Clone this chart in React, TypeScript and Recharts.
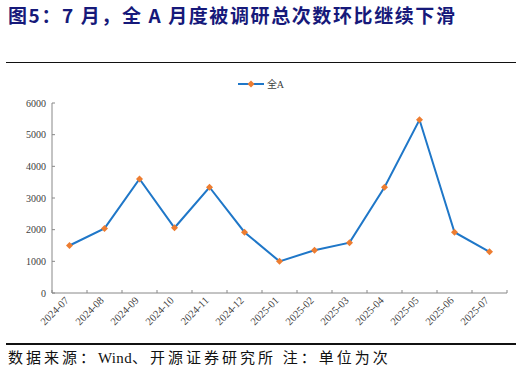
import React from 'react';
import { LineChart, Line, XAxis, YAxis } from 'recharts';

const months = [
  '2024-07', '2024-08', '2024-09', '2024-10', '2024-11', '2024-12', '2025-01',
  '2025-02', '2025-03', '2025-04', '2025-05', '2025-06', '2025-07',
];
const surveyCounts = [1500, 2040, 3600, 2060, 3340, 1920, 1000, 1350, 1590, 3340, 5470, 1920, 1300];
const yTicks = [0, 1000, 2000, 3000, 4000, 5000, 6000];
const seriesName = '全A';

const LINE = '#1F77C8';
const MARK = '#ED7D31';
const SERIF = '"Liberation Serif", "DejaVu Serif", serif';
const CJK = '"Liberation Serif", "Noto Sans CJK SC", serif';

// points sit in the middle of each month band; ticks mark the band edges
const data = months.map((m, i) => ({ x: i + 0.5, month: m, value: surveyCounts[i] }));
const edgeTicks = months.map((_, i) => i).concat(months.length);

function MonthTick(props: any) {
  const { x, y, index, width } = props;
  const half = width / months.length / 2;
  const label = months[index];
  return (
    <g>
      <line x1={x} y1={y} x2={x} y2={y - 3} stroke="#888" />
      {label && (
        <text
          x={x + half}
          y={y + 8}
          transform={`rotate(-45 ${x + half} ${y + 8})`}
          textAnchor="end"
          fontSize={10.5}
          fontFamily={SERIF}
          fill="#404040"
        >
          {label}
        </text>
      )}
    </g>
  );
}

function ValueTick(props: any) {
  const { x, y, payload } = props;
  return (
    <g>
      <line x1={x} y1={y} x2={x + 3} y2={y} stroke="#888" />
      <text x={x - 6} y={y} dy="0.35em" textAnchor="end" fontSize={10} fontFamily={SERIF} fill="#404040">
        {payload.value}
      </text>
    </g>
  );
}

function Diamond(props: any) {
  const { cx, cy } = props;
  if (cx == null || cy == null) return null;
  const r = 3.5;
  return <path d={`M${cx},${cy - r}L${cx + r},${cy}L${cx},${cy + r}L${cx - r},${cy}Z`} fill={MARK} />;
}

export default function App() {
  return (
    <div style={{ position: 'relative', width: 522, height: 374, background: '#fff', overflow: 'hidden' }}>
      <style>{'body{margin:0}'}</style>
      <div
        style={{
          position: 'absolute',
          left: 8,
          top: 1,
          fontSize: 19,
          letterSpacing: 1.6,
          fontWeight: 'bold',
          color: '#16197A',
          fontFamily: '"Noto Sans CJK SC", sans-serif',
          whiteSpace: 'nowrap',
        }}
      >
        图5：7 月，全 A 月度被调研总次数环比继续下滑
      </div>
      <div style={{ position: 'absolute', left: 6, top: 61.5, width: 510, height: 1.5, background: '#111' }} />
      <div
        style={{
          position: 'absolute',
          left: 0,
          top: 76,
          width: 522,
          display: 'flex',
          justifyContent: 'center',
          alignItems: 'center',
        }}
      >
        <svg width={26} height={10}>
          <line x1={0} y1={5} x2={26} y2={5} stroke={LINE} strokeWidth={2} />
          <Diamond cx={13} cy={5} />
        </svg>
        <span style={{ marginLeft: 3, fontSize: 10, fontFamily: CJK, color: '#404040' }}>{seriesName}</span>
      </div>
      <div style={{ position: 'absolute', left: 0, top: 0 }}>
        <LineChart width={522} height={374} data={data} margin={{ top: 103, right: 15, left: 0, bottom: 0 }}>
          <XAxis
            dataKey="x"
            type="number"
            domain={[0, months.length]}
            ticks={edgeTicks}
            interval={0}
            height={81}
            tickLine={false}
            tickSize={0}
            tickMargin={0}
            axisLine={{ stroke: '#888' }}
            tick={<MonthTick />}
          />
          <YAxis
            domain={[0, 6000]}
            ticks={yTicks}
            width={52}
            interval={0}
            tickLine={false}
            tickSize={0}
            tickMargin={0}
            axisLine={{ stroke: '#888' }}
            tick={<ValueTick />}
          />
          <Line
            name={seriesName}
            dataKey="value"
            stroke={LINE}
            strokeWidth={2}
            dot={<Diamond />}
            activeDot={false}
            isAnimationActive={false}
          />
        </LineChart>
      </div>
      <div style={{ position: 'absolute', left: 6, top: 343, width: 510, height: 1.5, background: '#111' }} />
      <div
        style={{
          position: 'absolute',
          left: 8,
          top: 346,
          fontSize: 15,
          letterSpacing: 3,
          fontFamily: CJK,
          color: '#111',
          whiteSpace: 'nowrap',
        }}
      >
        数据来源：<span style={{ letterSpacing: 0.3 }}>Wind</span>、开源证券研究所 注：单位为次
      </div>
    </div>
  );
}
